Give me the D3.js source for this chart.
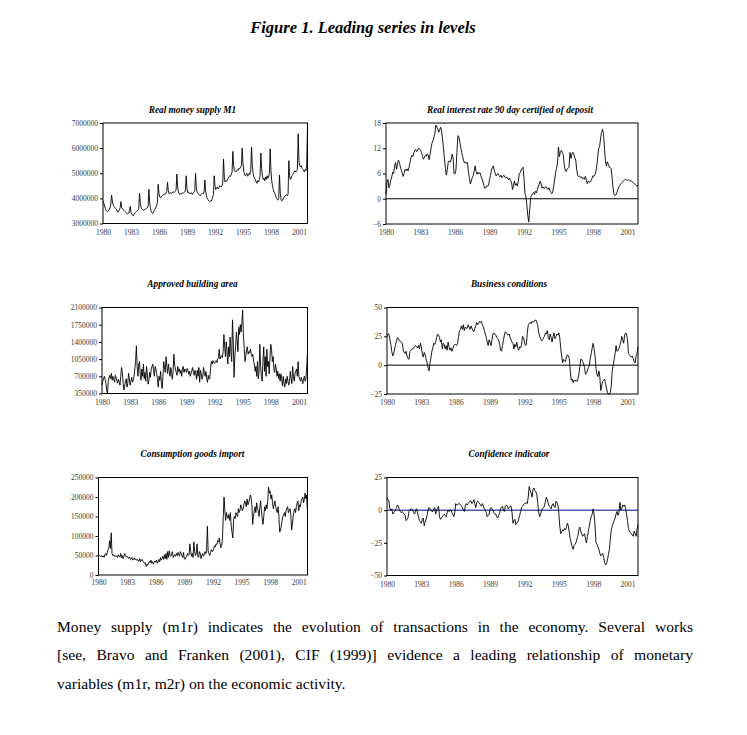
<!DOCTYPE html>
<html><head><meta charset="utf-8">
<script src="https://cdn.jsdelivr.net/npm/d3@7"></script>
<style>body{margin:0;background:#fff}svg{display:block}</style>
</head><body>
<svg id="c" width="747" height="735"></svg>
<script>
// ---------- DATA (monthly, 1980:01 - 2001:12) ----------
const startYear = 1980;
const yearTicks = [1980,1983,1986,1989,1992,1995,1998,2001];

// Real money supply M1 (thousands)
const m1Thousands = [
3900,3820,3700,3600,3520,3480,3470,3500,3560,3620,3750,4130,
3900,3750,3680,3650,3600,3580,3520,3450,3480,3550,3620,3870,
3650,3580,3550,3520,3480,3450,3420,3400,3380,3420,3500,3680,
3450,3380,3330,3300,3360,3420,3450,3480,3500,3530,3600,4200,
3800,3650,3580,3550,3530,3550,3560,3580,3600,3620,3700,4360,
3850,3600,3480,3420,3400,3450,3520,3580,3650,3720,3850,4560,
4200,4050,4020,4080,4100,4120,4150,4170,4150,4200,4280,4640,
4300,4180,4200,4220,4200,4250,4230,4260,4250,4280,4350,4970,
4450,4250,4180,4150,4200,4180,4220,4200,4230,4250,4320,4900,
4400,4220,4250,4200,4180,4230,4200,4150,4200,4250,4300,5000,
4450,4250,4200,4180,4150,4100,4150,4180,4200,4180,4250,4730,
4300,4100,4000,3950,3900,3870,3900,3880,3950,4050,4150,4900,
4500,4350,4400,4450,4380,4420,4500,4480,4450,4500,4600,5560,
4850,4650,4700,4680,4750,4800,4850,4900,4880,4950,5050,5870,
5300,5100,5080,5050,5100,5150,5120,5200,5180,5250,5300,6000,
5400,5100,4950,4900,4950,5000,4880,4920,5000,4950,5100,6040,
5350,5000,4850,4800,4750,4650,4600,4700,4650,4750,4900,5800,
5200,4900,4750,4800,4700,4850,4750,4900,4800,4850,5000,5970,
5100,4700,4500,4350,4250,4200,4100,4000,3950,3930,4000,4930,
4200,3950,3900,3930,4000,4050,4100,4120,4150,4100,4150,5500,
4900,4750,4800,4900,4950,5000,5050,5100,5050,5100,5150,6570,
5500,5300,5250,5300,5200,5150,5100,5050,5150,5100,5300,6870];
const m1Ticks = [3000000,4000000,5000000,6000000,7000000];

// Real interest rate 90 day certified of deposit (%)
const rate90 = [
1.0,3.8,4.6,2.6,3.2,4.5,5.2,6.3,6.0,7.8,8.6,7.0,
8.3,9.2,8.6,7.6,6.8,6.0,5.3,6.2,7.0,6.7,7.1,6.6,
7.4,8.6,9.8,10.3,10.0,10.9,11.4,11.7,11.2,11.5,12.0,11.8,
11.6,11.0,10.2,9.4,9.8,10.3,10.1,10.7,10.4,9.3,10.5,12.0,
13.2,13.8,14.6,15.5,17.5,17.0,16.6,15.8,16.4,17.0,16.1,14.2,
12.0,9.5,7.2,5.6,7.0,8.8,9.0,8.7,9.3,10.6,9.8,6.0,
5.9,6.8,11.0,15.0,14.8,13.5,12.2,11.0,10.0,9.0,8.5,8.8,
8.4,8.6,6.5,5.0,3.5,4.2,5.0,5.5,6.5,7.8,6.5,5.8,
6.3,5.9,6.2,5.5,4.8,4.2,3.3,2.5,2.6,3.1,2.9,3.2,
4.5,5.5,6.8,7.4,7.8,6.8,6.0,5.4,5.8,6.0,5.5,5.2,
5.6,5.0,5.3,5.6,5.1,4.9,5.2,4.8,4.5,4.9,4.3,4.0,
2.2,3.0,4.2,3.2,3.6,3.0,4.0,5.8,6.2,6.8,7.2,7.5,
5.0,1.2,0.5,-1.5,-4.0,-5.5,-2.5,0.3,0.8,1.2,1.5,1.0,
1.8,1.4,2.2,3.0,3.5,4.2,3.5,2.5,2.8,2.4,2.6,2.9,
2.5,2.2,2.6,2.0,1.5,1.2,1.6,3.0,4.5,6.2,7.2,8.5,
12.3,10.0,11.2,11.5,11.0,10.5,8.0,6.8,6.5,7.0,7.2,7.5,
11.0,9.6,10.5,11.0,10.6,9.8,9.2,7.0,5.6,5.3,5.4,5.0,
5.2,4.8,5.0,4.6,5.3,4.5,3.6,4.2,4.0,3.9,4.3,4.8,
5.5,5.3,5.6,6.5,7.8,10.0,12.0,12.5,14.5,15.8,16.5,15.5,
12.0,9.0,7.8,8.8,8.2,7.5,7.4,7.2,5.0,2.5,1.0,0.8,
0.9,1.5,2.2,2.8,3.2,3.5,3.8,4.0,4.3,4.5,4.6,4.5,
4.4,4.5,4.3,4.2,4.2,4.0,3.9,3.6,3.4,3.2,3.0,3.3];
const rateTicks = [-6,0,6,12,18];

// Approved building area (thousands)
const buildingThousands = [
520,600,650,700,640,560,420,360,600,680,720,650,
760,620,700,650,580,720,680,600,560,640,580,520,
700,880,780,560,420,500,600,650,480,560,760,650,
520,600,680,580,620,700,850,1000,1320,900,700,950,
1000,720,620,850,700,950,650,780,600,900,750,540,
620,780,680,850,900,950,820,700,900,850,760,650,
480,700,620,800,560,450,700,1000,880,780,1100,900,
760,950,820,700,880,780,640,800,1150,920,850,780,
720,900,800,850,760,820,700,880,900,780,850,820,
780,860,820,740,800,700,760,820,880,780,720,820,
760,640,820,700,880,580,820,760,640,700,880,760,
700,800,650,580,720,640,660,880,1000,950,1020,980,
960,1000,1020,980,1050,1080,1250,1050,1100,1120,1080,1200,
1550,1300,1100,1400,1200,950,1300,1100,1500,1200,1000,1850,
1400,680,1100,1300,1600,1450,1200,1700,1550,1750,1600,1800,
2050,1500,1300,1000,1100,1250,1300,1150,1200,1180,1250,1150,
1100,1150,1000,950,800,900,700,1000,650,800,1350,900,
700,600,1000,1300,800,1100,700,1250,900,1000,750,1100,
1350,1250,1000,1100,850,780,950,850,700,800,650,750,
600,750,650,500,700,550,480,650,550,700,600,520,
600,800,650,550,900,700,600,750,800,850,700,1000,
700,650,600,680,620,550,650,700,600,650,900,1200];
const buildingTicks = [350000,700000,1050000,1400000,1750000,2100000];

// Business conditions (balance)
const business = [
25,27,27,22,18,12,8,10,14,18,21,24,
23,21,21,20,19,13,11,10,12,8,6,5,
12,13,14,14,15,16,17,16,15,17,14,19,
16,10,7,11,9,5,2,-2,-5,2,6,12,
15,19,18,20,24,27,26,24,20,22,14,19,
18,14,17,13,20,16,13,15,12,14,17,18,
18,17,19,25,30,31,34,31,35,30,33,32,
32,35,33,31,34,32,30,29,32,34,37,35,
36,38,37,38,35,33,30,27,24,20,17,22,
20,17,22,27,28,27,26,24,23,22,18,13,
12,17,22,26,29,28,27,26,27,24,22,20,
19,14,18,16,20,15,13,16,15,18,25,24,
20,17,18,28,35,36,37,36,38,37,38,39,
39,37,34,28,25,23,21,22,24,25,28,27,
30,24,22,27,24,20,25,28,23,25,27,26,
28,24,15,8,2,5,4,3,7,9,8,6,
-5,-13,-12,-15,-13,-14,-13,-14,-12,-8,-2,5,
5,3,1,-2,-8,-7,-5,-2,0,6,10,15,
19,14,8,-3,-8,-10,-5,-10,-22,-18,-14,-13,
-12,-16,-20,-24,-25,-25,-24,-18,-5,0,5,10,
17,12,13,14,17,20,25,22,19,26,28,27,
22,10,9,8,7,8,6,3,2,8,10,16];
const businessTicks = [-25,0,25,50];

// Consumption goods import (thousands)
const importsThousands = [
52,50,48,47,50,46,49,45,52,55,50,58,
65,70,88,68,108,55,50,52,48,50,47,49,
45,52,48,46,55,44,50,42,47,55,50,46,
48,44,43,46,40,42,45,38,40,44,39,41,
38,40,36,35,42,34,37,40,35,33,30,32,
22,28,25,30,35,32,38,30,34,28,32,36,
33,38,30,35,40,34,45,38,42,48,40,52,
42,55,40,60,45,62,50,48,55,60,45,50,
52,48,55,50,58,52,48,60,55,50,45,58,
42,40,45,48,55,50,52,80,60,48,55,45,
85,60,50,55,80,48,45,60,55,42,50,55,
48,52,60,55,58,125,62,55,50,58,65,60,
62,68,75,72,80,78,88,85,95,80,70,75,
95,150,200,165,140,160,150,145,155,140,160,125,
110,95,140,150,145,160,155,150,170,160,165,180,
175,165,170,180,190,185,175,195,180,185,195,205,
200,180,130,150,165,175,160,185,170,165,150,175,
190,165,145,130,150,175,165,180,170,190,225,210,
215,195,205,185,170,180,190,175,165,160,175,150,
110,115,125,140,150,155,160,150,165,170,175,160,
165,170,155,115,130,150,165,170,160,175,185,190,
165,180,175,190,195,200,185,195,210,195,205,160];
const importsTicks = [0,50000,100000,150000,200000,250000];

// Confidence indicator (balance)
const confidence = [
10,8,7,1,0,1,-3,-2,-1,0,2,4,
3,0,-1,-2,-1,-2,-3,-4,-8,-7,-6,-1,
0,1,1,0,-2,-3,0,1,-2,-5,-8,-9,
-10,-7,-6,-12,-9,-7,-4,0,2,1,0,-1,
-1,1,2,-3,0,2,3,-5,-7,-6,-5,-4,
-3,-4,-5,-2,0,-1,0,0,-2,-3,-5,-2,
5,4,4,5,5,4,3,2,0,-1,3,5,
4,5,6,7,7,5,6,8,5,2,6,7,
6,5,4,3,5,3,1,0,-2,-5,-4,-3,
1,2,1,0,-2,-3,-3,-5,-6,-4,-2,1,
2,3,0,-1,3,4,3,1,2,3,3,-2,
-10,-8,-7,-11,-10,-9,-7,-4,-1,2,3,4,
5,5,6,5,10,18,15,13,10,16,17,15,
14,12,5,-2,-5,-3,0,1,2,3,7,10,
8,5,3,2,1,4,5,3,2,7,6,4,
-2,-12,-18,-17,-15,-16,-14,-15,-13,-10,-12,-17,
-22,-25,-28,-30,-27,-26,-25,-22,-20,-15,-13,-16,
-18,-20,-19,-18,-22,-25,-20,-16,-12,-8,-5,-3,
1,-3,-12,-25,-26,-28,-30,-33,-35,-34,-33,-36,
-40,-42,-41,-38,-34,-30,-22,-15,-12,-10,-8,-6,
-3,-1,-4,-2,6,0,1,4,3,4,1,-3,
-8,-14,-16,-17,-18,-19,-20,-16,-18,-20,-15,-11];
const confidenceTicks = [-50,-25,0,25];

const figureTitle = "Figure 1. Leading series in levels";
const panelTitles = ["Real money supply M1","Real interest rate 90 day certified of deposit",
  "Approved building area","Business conditions","Consumption goods import","Confidence indicator"];
const paragraph = [
  "Money supply (m1r) indicates the evolution of transactions in the economy. Several works",
  "[see, Bravo and Franken (2001), CIF (1999)] evidence a leading relationship of monetary",
  "variables (m1r, m2r) on the economic activity."];

// ---------- DRAWING ----------
const svg = d3.select("#c");
svg.append("rect").attr("width",747).attr("height",735).attr("fill","#fff");
const SERIF = "'Liberation Serif','Times New Roman',serif";

svg.append("text").attr("x",363).attr("y",33).attr("text-anchor","middle")
  .attr("font-family",SERIF).attr("font-size",16.5).attr("font-weight","bold")
  .attr("font-style","italic").attr("fill","#000").text(figureTitle);

const panels = [
  {title:panelTitles[0], data:m1Thousands, unit:1000, ticks:m1Ticks, x0:103, x1:307.5, y0:123, y1:223.5, tx:192.5, ty:113, pad:6},
  {title:panelTitles[1], data:rate90, unit:1, ticks:rateTicks, zero:"#000", x0:386, x1:638, y0:123, y1:224, tx:510, ty:113, pad:6},
  {title:panelTitles[2], data:buildingThousands, unit:1000, ticks:buildingTicks, x0:102, x1:307.5, y0:307.5, y1:393.5, tx:192.5, ty:287, pad:6},
  {title:panelTitles[3], data:business, unit:1, ticks:businessTicks, zero:"#000", x0:387, x1:638, y0:307.5, y1:394, tx:509, ty:287, pad:6},
  {title:panelTitles[4], data:importsThousands, unit:1000, ticks:importsTicks, x0:98.5, x1:307.5, y0:477.5, y1:575, tx:192.5, ty:457, pad:5},
  {title:panelTitles[5], data:confidence, unit:1, ticks:confidenceTicks, zero:"#000080", x0:387, x1:638, y0:477.5, y1:575.5, tx:509, ty:457, pad:6}
];

panels.forEach(p => {
  const n = p.data.length;
  const x = d3.scaleLinear().domain([startYear, startYear + (n-1)/12]).range([p.x0, p.x1]);
  const y = d3.scaleLinear().domain(d3.extent(p.ticks)).range([p.y1, p.y0]);
  const g = svg.append("g");

  g.append("text").attr("x",p.tx).attr("y",p.ty).attr("text-anchor","middle")
    .attr("font-family",SERIF).attr("font-size",9.3).attr("font-weight","bold")
    .attr("font-style","italic").attr("fill","#000").text(p.title);

  // y axis
  const ya = g.append("g").attr("transform",`translate(${p.x0},0)`)
    .call(d3.axisLeft(y).tickValues(p.ticks).tickSize(3).tickPadding(2).tickFormat(d3.format("d")));
  ya.select(".domain").remove();
  ya.selectAll("line").attr("stroke","#000");
  ya.selectAll("text").attr("font-family",SERIF).attr("font-size",7.5).attr("fill","#3a3a3a");

  // x axis
  const xa = g.append("g").attr("transform",`translate(0,${p.y1})`)
    .call(d3.axisBottom(x).tickValues(yearTicks).tickSize(0).tickPadding(p.pad).tickFormat(d3.format("d")));
  xa.select(".domain").remove();
  xa.selectAll("text").attr("font-family",SERIF).attr("font-size",7.5).attr("fill","#3a3a3a");

  if (p.zero) {
    g.append("line").attr("x1",p.x0).attr("x2",p.x1).attr("y1",y(0)).attr("y2",y(0))
      .attr("stroke",p.zero).attr("stroke-width",1);
  }

  const line = d3.line().x((d,i)=>x(startYear + i/12)).y(d=>y(d*p.unit));
  g.append("path").datum(p.data).attr("d",line).attr("fill","none")
    .attr("stroke","#000").attr("stroke-width",0.9).attr("stroke-linejoin","round");

  g.append("rect").attr("x",p.x0).attr("y",p.y0).attr("width",p.x1-p.x0).attr("height",p.y1-p.y0)
    .attr("fill","none").attr("stroke","#000").attr("stroke-width",1);
});

// paragraph (justified lines)
const lineY = [632, 660, 689];
paragraph.forEach((t,i) => {
  const el = svg.append("text").attr("x",57).attr("y",lineY[i])
    .attr("font-family",SERIF).attr("font-size",15.6).attr("fill","#000").text(t);
  if (i < paragraph.length-1) {
    const w = el.node().getComputedTextLength();
    const spaces = (t.match(/ /g)||[]).length;
    el.attr("word-spacing", ((636 - w)/spaces).toFixed(3));
  }
});
</script>
</body></html>
